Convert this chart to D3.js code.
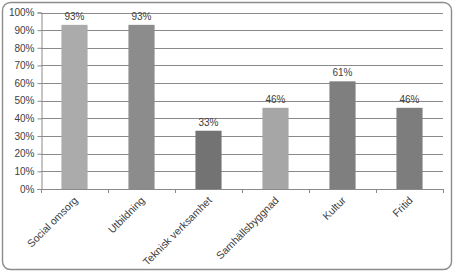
<!DOCTYPE html>
<html><head><meta charset="utf-8">
<script src="https://cdn.jsdelivr.net/npm/d3@7"></script>
<style>body{margin:0;background:#fff}svg{display:block}</style>
</head><body>
<script>
const categories = ["Social omsorg","Utbildning","Teknisk verksamhet","Samhällsbyggnad","Kultur","Fritid"];
const values = [93, 93, 33, 46, 61, 46];
const barColors = ["#ababab","#8c8c8c","#737373","#a6a6a6","#7f7f7f","#7d7d7d"];
const yTicks = [0,10,20,30,40,50,60,70,80,90,100];

const W = 455, H = 273;
const svg = d3.select("body").append("svg").attr("width", W).attr("height", H);
const font = "'Liberation Sans Narrow','Liberation Sans',Arial,sans-serif";

svg.append("rect").attr("x",2.5).attr("y",2.5).attr("width",W-6).attr("height",H-6)
  .attr("rx",8).attr("fill","#fff").attr("stroke","#8c8c8c").attr("stroke-width",1.4);

const m = {l:41, r:443, t:12.5, b:189};
const x = d3.scaleBand().domain(categories).range([m.l, m.r]).paddingInner(0.61).paddingOuter(0.305);
const y = d3.scaleLinear().domain([0,100]).range([m.b, m.t]);

// gridlines
svg.append("g").selectAll("line").data(yTicks.filter(d=>d>0)).join("line")
  .attr("x1",m.l).attr("x2",m.r).attr("y1",d=>Math.round(y(d))+0.5).attr("y2",d=>Math.round(y(d))+0.5)
  .attr("stroke","#8a8a8a").attr("stroke-width",1);

// bars
svg.append("g").selectAll("rect").data(categories).join("rect")
  .attr("x",d=>x(d)).attr("width",x.bandwidth())
  .attr("y",(d,i)=>y(values[i])).attr("height",(d,i)=>m.b-y(values[i]))
  .attr("fill",(d,i)=>barColors[i]);

// value labels
svg.append("g").selectAll("text").data(categories).join("text")
  .attr("x",d=>x(d)+x.bandwidth()/2).attr("y",(d,i)=>y(values[i])-5)
  .attr("text-anchor","middle").attr("font-family",font).attr("font-size",10)
  .attr("fill","#404040").text((d,i)=>values[i]+"%");

// y axis
const yAxis = d3.axisLeft(y).tickValues(yTicks).tickFormat(d=>d+"%").tickSize(4).tickPadding(3);
const gy = svg.append("g").attr("transform",`translate(${m.l+0.5},0)`).call(yAxis);
gy.select(".domain").attr("stroke","#8a8a8a");
gy.selectAll(".tick line").attr("stroke","#8a8a8a");
gy.selectAll("text").attr("font-family",font).attr("font-size",10).attr("fill","#404040");

// x axis line
svg.append("line").attr("x1",m.l).attr("x2",m.r).attr("y1",m.b+0.5).attr("y2",m.b+0.5).attr("stroke","#8a8a8a");
// x tick marks at band boundaries
const bounds = d3.range(categories.length+1).map(i=>m.l+i*(m.r-m.l)/categories.length);
svg.append("g").selectAll("line").data(bounds).join("line")
  .attr("x1",d=>Math.round(d)+0.5).attr("x2",d=>Math.round(d)+0.5).attr("y1",m.b).attr("y2",m.b+4)
  .attr("stroke","#8a8a8a");

// x labels rotated
svg.append("g").selectAll("text").data(categories).join("text")
  .attr("transform",d=>`translate(${x(d)+x.bandwidth()/2+4},${m.b+12}) rotate(-45)`)
  .attr("text-anchor","end").attr("font-family",font).attr("font-size",10.5)
  .attr("fill","#404040").text(d=>d);
</script>
</body></html>
